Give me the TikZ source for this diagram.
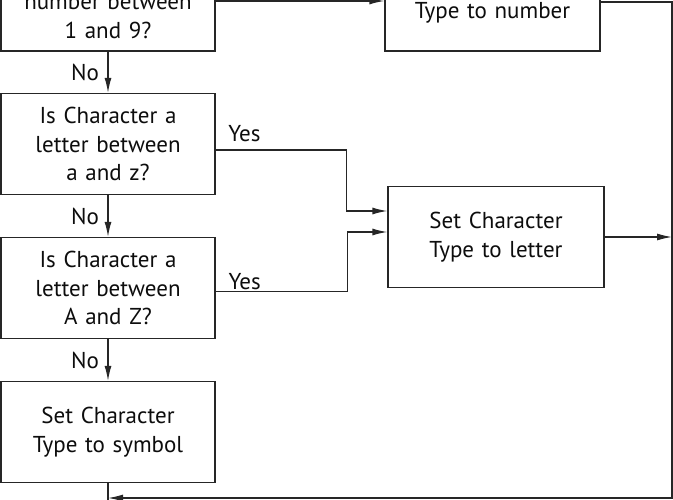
\documentclass[tikz,border=0pt]{standalone}
\usepackage{fontspec}
\setmainfont{PT Sans}
\usetikzlibrary{arrows.meta,calc,positioning}
\tikzstyle{block} = [draw, fill=white, rectangle, line width=1.3pt,
	minimum height=101pt, minimum width=214pt, text width=205pt, text centered, inner sep=0pt]

\begin{document}
\begin{tikzpicture}[auto, node distance=144pt, >={Latex[length=15pt,width=7pt]},
	line width=1.3pt, color=black!85, text=black!95, font=\fontsize{23}{28.5}\selectfont]
	\useasboundingbox (0,0) rectangle (673pt,-500pt);
	\node [block, minimum height=70pt] (num) at (108pt,-16pt) {number between\\1 and 9?};
	\node [block, below of=num, yshift=16pt] (low) {Is Character a\\letter between\\a and z?};
	\node [block, below of=low] (up) {Is Character a\\letter between\\A and Z?};
	\node [block, below of=up] (sym) {Set Character\\Type to symbol};
	\node [block, right of=num, xshift=240.5pt, yshift=3.5pt, minimum width=215pt, minimum height=77pt] (numset) {Type to number};
	\node [block, right of=low, xshift=244pt, yshift=-93pt, minimum width=216pt] (let) {Set Character\\Type to letter};
	\coordinate (rail) at (672pt,-498pt);
	\coordinate (merge) at (sym.south |- rail);
	\coordinate (exit) at ($(merge)+(0,-10pt)$);

	\draw[->] ([yshift=15pt]num.east) -- ([yshift=15pt]num.east -| numset.west);
	\draw[->] (num) -- node[left=5pt]{No} (low);
	\draw[->] (low) -- node[left=5pt]{No} (up);
	\draw[->] (up) -- node[left=5pt]{No} (sym);
	\draw[->] ([yshift=-6pt]low.east) -- node[pos=0.22, above=4pt]{Yes} ++(131pt,0) |- ([yshift=26pt]let.west);
	\draw[->] ([yshift=-3.5pt]up.east) -- node[pos=0.22, above=-2pt]{Yes} ++(132pt,0) |- ([yshift=5pt]let.west);
	\draw[->] (let) -- (let -| rail);
	\draw[->] ([yshift=10.5pt]numset.east) -| (rail) -- (merge);
	\draw (sym) -- (exit);
\end{tikzpicture}
\end{document}
